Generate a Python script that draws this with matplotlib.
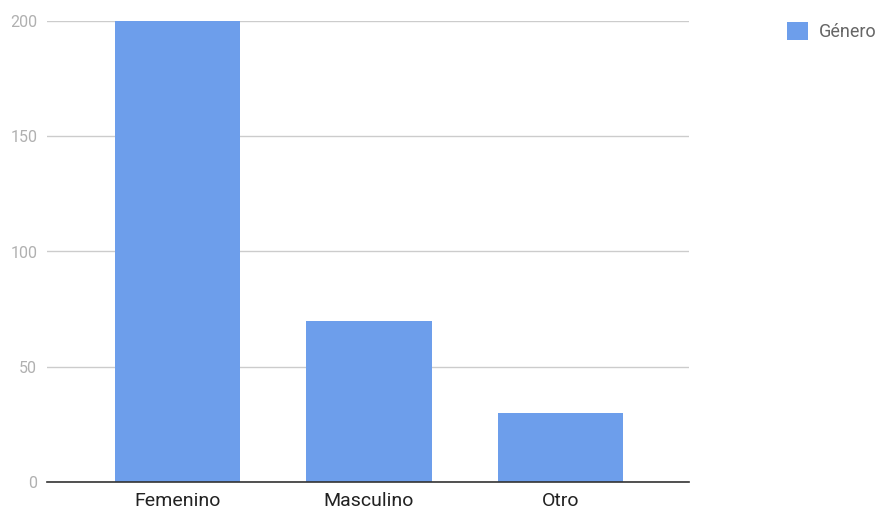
import matplotlib
matplotlib.use('Agg')
import matplotlib.pyplot as plt
import numpy as np

# data
categories = ['Femenino', 'Masculino', 'Otro']
counts = [200, 70, 30]
yticks = [0, 50, 100, 150, 200]
series_name = 'Género'

bar_color = '#6d9eeb'

plt.rcParams['font.family'] = ['Roboto', 'DejaVu Sans']

fig = plt.figure(figsize=(8.84, 5.11), dpi=100)
ax = fig.add_axes([47 / 884, 29 / 511, 642 / 884, 461 / 511])

x = np.arange(len(categories))
ax.bar(x, counts, width=0.653, color=bar_color, label=series_name, zorder=3)

ax.set_xlim(-0.68, 2.67)
ax.set_ylim(0, 200)
ax.set_yticks(yticks)
ax.set_xticks(x)
ax.set_xticklabels(categories, fontsize=14, color='#222222')
ax.tick_params(axis='y', labelsize=11.5, labelcolor='#b0b0b0', length=0, pad=7)
ax.tick_params(axis='x', length=0, pad=7)

ax.grid(axis='y', color='#cccccc', linewidth=1, zorder=0)
for side in ['top', 'right', 'left']:
    ax.spines[side].set_visible(False)
ax.spines['bottom'].set_color('#333333')
ax.spines['bottom'].set_linewidth(1.2)
ax.spines['bottom'].set_zorder(4)

fig.legend(loc='upper left', bbox_to_anchor=(771 / 884, 1 - 6 / 511), frameon=False,
           fontsize=13, labelcolor='#666666', handlelength=1.15, handleheight=1.15,
           handletextpad=0.6)

plt.savefig('out.png', dpi=100)
